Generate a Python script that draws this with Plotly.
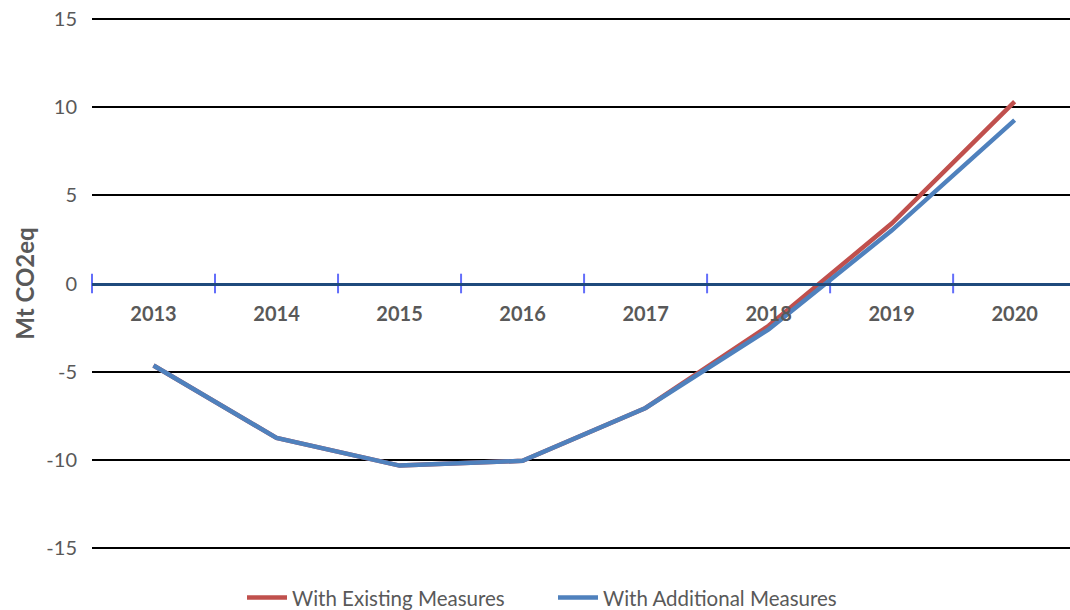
import plotly.graph_objects as go

# Projected emissions gap by year (Mt CO2eq)
years = ["2013", "2014", "2015", "2016", "2017", "2018", "2019", "2020"]
with_existing = [-4.65, -8.76, -10.33, -10.06, -7.06, -2.4, 3.4, 10.32]
with_additional = [-4.65, -8.76, -10.33, -10.06, -7.06, -2.6, 3.0, 9.27]
y_ticks = [-15, -10, -5, 0, 5, 10, 15]
y_tick_text = ["-15", "-10", "-5", "0", "5", "10", "15"]

RED = "#C0504D"
BLUE = "#4F81BD"
AXIS_BLUE = "#1F4A7C"
TICK_BLUE = "#3C6496"
GREY = "#595959"
FONT = "Lato, 'Open Sans', sans-serif"

xs = list(range(len(years)))
boundaries = [i - 0.5 for i in range(len(years) + 1)]

fig = go.Figure()

# tick marks across the zero axis at the category boundaries
fig.add_trace(go.Scatter(
    x=boundaries, y=[0] * len(boundaries), mode="markers",
    marker=dict(symbol="line-ns-open", size=14, line=dict(color=TICK_BLUE, width=2)),
    showlegend=False, hoverinfo="skip", cliponaxis=False,
))

fig.add_trace(go.Scatter(
    x=xs, y=with_existing, mode="lines", name="With Existing Measures",
    line=dict(color=RED, width=4.5),
))
fig.add_trace(go.Scatter(
    x=xs, y=with_additional, mode="lines", name="With Additional Measures",
    line=dict(color=BLUE, width=4.5),
))

fig.update_layout(
    width=1070, height=610,
    margin=dict(l=92, r=0, t=18, b=61, autoexpand=False),
    paper_bgcolor="white", plot_bgcolor="white",
    font=dict(family=FONT, color=GREY, size=20),
    xaxis=dict(
        range=[-0.5, 7.45], tickvals=xs, ticktext=years,
        showgrid=False, zeroline=False,
        showline=True, linecolor=AXIS_BLUE, linewidth=2.5,
        anchor="free", position=0.5,
        ticks="outside", ticklen=12, tickcolor="rgba(0,0,0,0)",
        tickfont=dict(family=FONT, size=20, color=GREY, weight="bold"),
    ),
    yaxis=dict(
        range=[-15.06, 15.06], tickvals=y_ticks, ticktext=y_tick_text,
        showgrid=True, gridcolor="black", gridwidth=1.5,
        zeroline=False, showline=False,
        ticks="outside", ticklen=10, tickcolor="rgba(0,0,0,0)",
        tickfont=dict(family=FONT, size=20, color=GREY),
        title=dict(text="Mt CO2eq", font=dict(family=FONT, size=24, color=GREY, weight="bold"), standoff=4),
    ),
    legend=dict(
        orientation="h", x=242 / 1070, xanchor="left", xref="container",
        y=0.02, yanchor="middle", yref="container",
        font=dict(family=FONT, size=20.5, color=GREY),
        entrywidth=256, entrywidthmode="pixels",
        itemwidth=40, tracegroupgap=0,
    ),
    showlegend=True,
)

fig.write_html("out.html")
